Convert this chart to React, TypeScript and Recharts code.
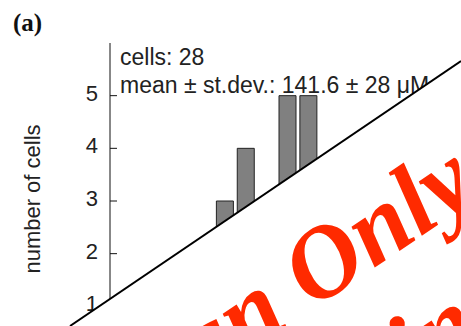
import { BarChart, Bar, XAxis, YAxis } from 'recharts'

// concentration bins (µM, lower edge) and cell counts per bin
const bins = ['60', '70', '80', '90', '100', '110', '120', '130', '140', '150', '160', '170', '180', '190', '200', '210']
const counts = [0, 0, 0, 1, 2, 3, 4, 3, 5, 5, 3, 1, 1, 0, 0, 0]
const yTicks = [1, 2, 3, 4, 5]
const totalCells = 28
const meanConc = 141.6
const sdConc = 28
const watermarkTop = ['Design', 'Only']
const watermarkBottom = 'Not for Business Use'

const data = bins.map((bin, i) => ({ bin, count: counts[i] }))

const SANS = '"Liberation Sans", Arial, Helvetica, sans-serif'
const SERIF = '"Liberation Serif", "Times New Roman", serif'

function YTick({ x, y, payload }: any) {
  return (
    <g>
      <line x1={x} x2={x + 7} y1={y} y2={y} stroke="#111" strokeWidth={1} />
      <text x={x - 12} y={y} dy={5} textAnchor="end" fontSize={22} fill="#222" fontFamily={SANS}>
        {payload.value}
      </text>
    </g>
  )
}

export default function App() {
  return (
    <div style={{ position: 'fixed', left: 0, top: 0, width: 461, height: 326, overflow: 'hidden', background: '#fff' }}>
      <BarChart width={461} height={400} data={data} margin={{ top: 43, right: 17, bottom: 41, left: 0 }} barSize={17}>
        <XAxis dataKey="bin" orientation="top" height={0} tick={false} tickLine={false} axisLine={{ stroke: '#444', strokeWidth: 1 }} />
        <YAxis
          domain={[0, 6]}
          ticks={yTicks}
          width={110}
          tickSize={0}
          tickMargin={0}
          tickLine={false}
          tick={<YTick />}
          axisLine={{ stroke: '#111', strokeWidth: 1 }}
        />
        <YAxis yAxisId="right" orientation="right" domain={[0, 6]} width={0} tick={false} tickLine={false} axisLine={{ stroke: '#444', strokeWidth: 1 }} />
        <Bar dataKey="count" fill="#808080" stroke="#222" strokeWidth={1} isAnimationActive={false} />
        <text x={120} y={65} fontSize={23} fill="#222" fontFamily={SANS}>cells: {totalCells}</text>
        <text x={120} y={93} fontSize={23} fill="#222" fontFamily={SANS}>
          mean ± st.dev.: {meanConc} ± {sdConc} μM
        </text>
      </BarChart>

      <svg width={461} height={326} style={{ position: 'absolute', left: 0, top: 0, pointerEvents: 'none' }}>
        <text x={13} y={31} fontSize={25} fontWeight="bold" fontFamily={SERIF} fill="#111">(a)</text>
        <text transform="translate(40,199) rotate(-90)" textAnchor="middle" fontSize={22} fill="#222" fontFamily={SANS}>
          number of cells
        </text>
        <polygon points="70,326 461,61 461,326" fill="#fff" />
        <line x1={70} y1={326} x2={461} y2={61} stroke="#000" strokeWidth={2} />
        <g fill="#ff2a00" fontFamily={SERIF} fontWeight="bold" fontStyle="italic" fontSize={102}>
          <text transform="translate(312,310) rotate(-34)" textAnchor="end" x={-25}>{watermarkTop[0]}</text>
          <text transform="translate(312,310) rotate(-34)" x={0}>{watermarkTop[1]}</text>
          <text transform="translate(375,415) rotate(-34)" x={-444}>{watermarkBottom}</text>
        </g>
      </svg>
    </div>
  )
}
